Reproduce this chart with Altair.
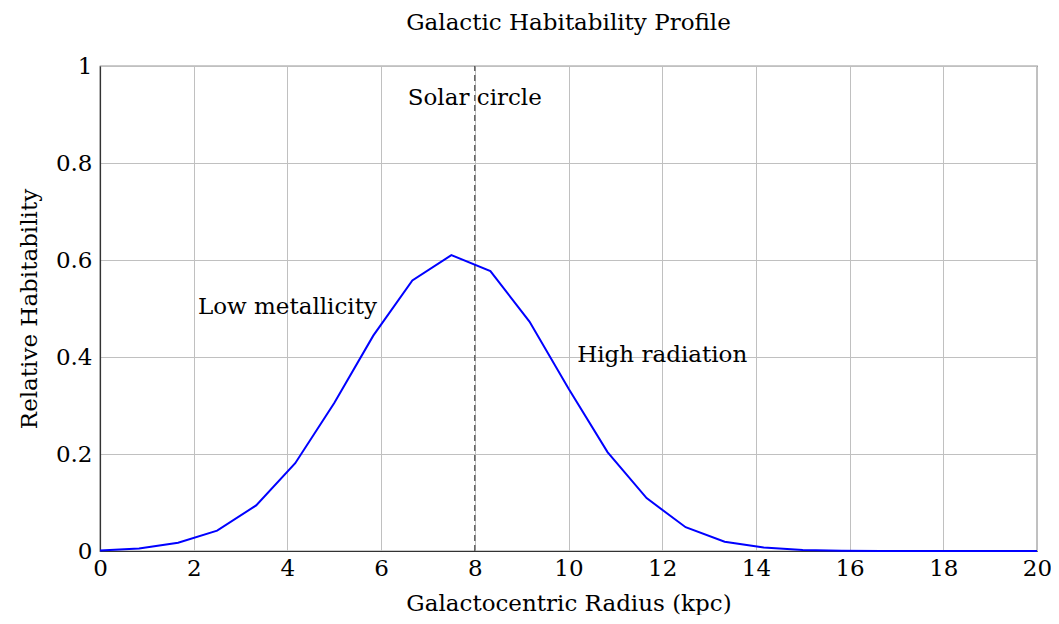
import altair as alt
import pandas as pd

radius = [0.0, 0.833, 1.667, 2.5, 3.333, 4.167, 5.0, 5.833, 6.667, 7.5, 8.333, 9.167,
          10.0, 10.833, 11.667, 12.5, 13.333, 14.167, 15.0, 15.833, 16.667, 17.5,
          18.333, 19.167, 20.0]
habitability = [0.001, 0.005, 0.017, 0.042, 0.094, 0.181, 0.305, 0.444, 0.558, 0.610,
                0.577, 0.473, 0.335, 0.204, 0.109, 0.049, 0.019, 0.007, 0.002, 0.0005,
                0.0001, 0.0, 0.0, 0.0, 0.0]

solar_x = [8.0]
label_text = ["Solar circle", "Low metallicity", "High radiation"]
label_x = [8.0, 4.0, 12.0]
label_y = [0.934, 0.503, 0.404]

FONT = "DejaVu Serif"
FS = 23

df = pd.DataFrame({"r": radius, "h": habitability})
sol = pd.DataFrame({"x": solar_x, "y0": [0.0], "y1": [1.0]})
labels = pd.DataFrame({"t": label_text, "x": label_x, "y": label_y})

xs = alt.Scale(domain=[0, 20], nice=False, zero=False)
ys = alt.Scale(domain=[0, 1], nice=False)

xaxis = alt.Axis(title="Galactocentric Radius (kpc)", values=list(range(0, 21, 2)),
                 format="d", grid=True, ticks=False, labelPadding=6, titlePadding=12,
                 labelFlush=False, labelOverlap=False)
yaxis = alt.Axis(title="Relative Habitability", values=[0, 0.2, 0.4, 0.6, 0.8, 1],
                 grid=True, ticks=False, labelPadding=8, titlePadding=14,
                 labelFlush=False, labelOverlap=False,
                 labelExpr="datum.value == 0 ? '0' : datum.value == 1 ? '1' : format(datum.value, '.1f')")

line = alt.Chart(df).mark_line(color="#0000ff", strokeWidth=2).encode(
    x=alt.X("r:Q", scale=xs, axis=xaxis),
    y=alt.Y("h:Q", scale=ys, axis=yaxis),
)

rule = alt.Chart(sol).mark_rule(color="#444444", strokeWidth=1.2, strokeDash=[6, 4]).encode(
    x=alt.X("x:Q", scale=xs),
    y=alt.Y("y0:Q", scale=ys),
    y2="y1:Q",
)

text = alt.Chart(labels).mark_text(font=FONT, fontSize=FS, color="black",
                                   align="center", baseline="middle").encode(
    x=alt.X("x:Q", scale=xs),
    y=alt.Y("y:Q", scale=ys),
    text="t:N",
)

chart = alt.layer(rule, line, text).properties(
    width=937, height=485,
    title=alt.TitleParams("Galactic Habitability Profile", font=FONT, fontSize=FS,
                          fontWeight="normal", color="black", offset=20),
    autosize=alt.AutoSizeParams(type="none"),
    padding={"left": 92, "top": 58, "right": 14, "bottom": 64},
).configure_view(
    stroke="#333333", strokeWidth=1.2
).configure_axis(
    labelFont=FONT, titleFont=FONT, labelFontSize=FS, titleFontSize=FS,
    labelColor="black", titleColor="black", titleFontWeight="normal",
    gridColor="#c0c0c0", gridWidth=1, domainColor="#333333", domainWidth=1.2,
)

chart.save("out.html", embed_options={"renderer": "svg", "actions": False})
